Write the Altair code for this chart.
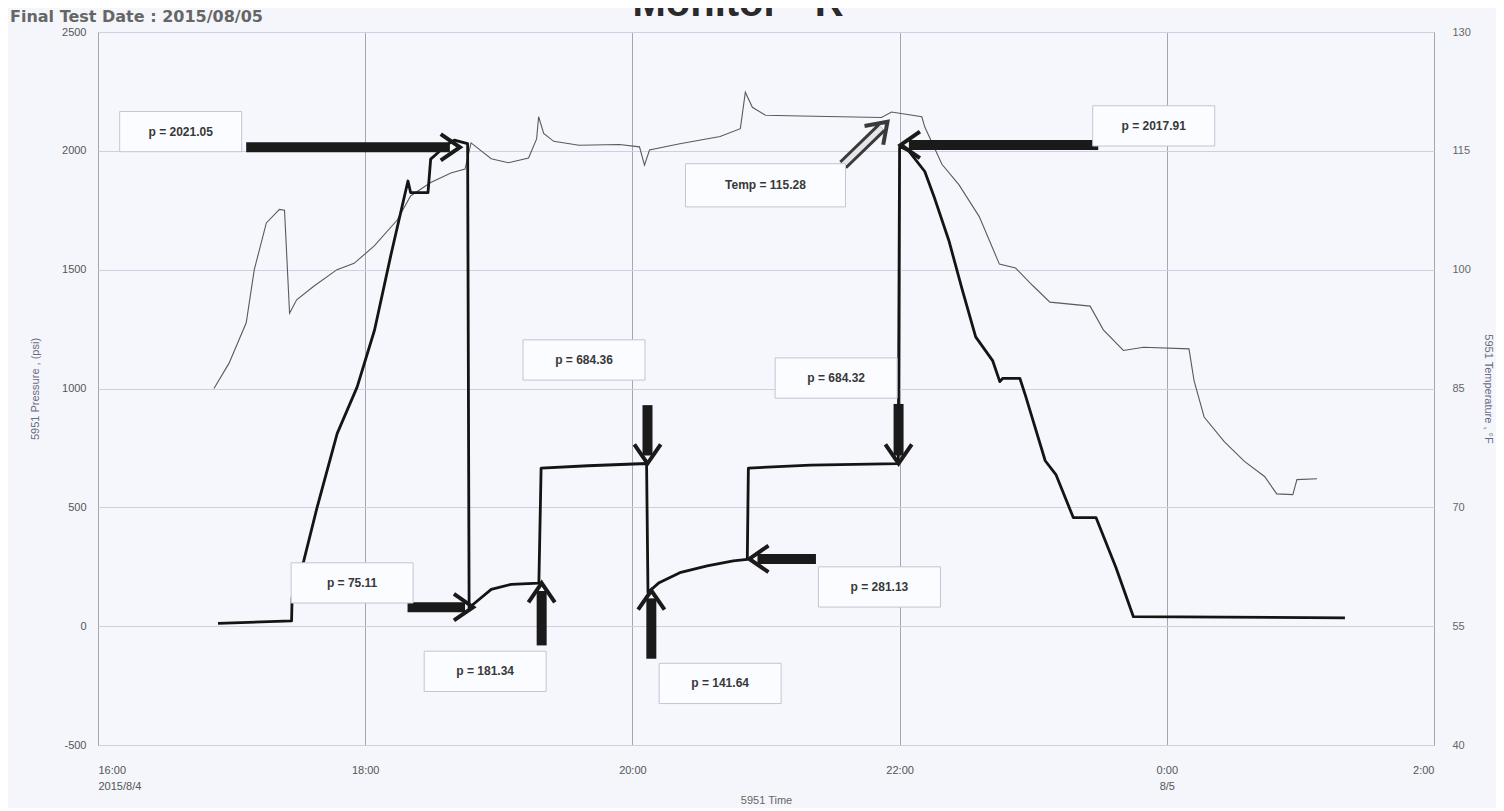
import altair as alt
import pandas as pd

# ---------------- data ----------------
p_time = [
    "2015-08-04 16:53:54", "2015-08-04 17:26:56", "2015-08-04 17:27:10", "2015-08-04 17:32:24",
    "2015-08-04 17:38:24", "2015-08-04 17:47:24", "2015-08-04 17:56:24", "2015-08-04 18:04:12",
    "2015-08-04 18:11:24", "2015-08-04 18:19:12", "2015-08-04 18:20:24", "2015-08-04 18:28:12",
    "2015-08-04 18:29:24", "2015-08-04 18:32:24", "2015-08-04 18:36:00", "2015-08-04 18:40:00",
    "2015-08-04 18:46:00", "2015-08-04 18:46:40", "2015-08-04 18:47:36", "2015-08-04 18:56:36",
    "2015-08-04 19:05:36", "2015-08-04 19:18:00", "2015-08-04 19:19:00", "2015-08-04 19:40:00",
    "2015-08-04 20:06:22", "2015-08-04 20:07:00", "2015-08-04 20:12:00", "2015-08-04 20:21:18",
    "2015-08-04 20:33:36", "2015-08-04 20:45:18", "2015-08-04 20:51:36", "2015-08-04 20:52:05",
    "2015-08-04 21:20:00", "2015-08-04 21:59:24", "2015-08-04 22:00:00", "2015-08-04 22:04:05",
    "2015-08-04 22:11:19", "2015-08-04 22:15:51", "2015-08-04 22:22:07", "2015-08-04 22:28:00",
    "2015-08-04 22:34:10", "2015-08-04 22:41:51", "2015-08-04 22:45:00", "2015-08-04 22:46:23",
    "2015-08-04 22:54:00", "2015-08-04 22:56:30", "2015-08-04 23:05:24", "2015-08-04 23:10:12",
    "2015-08-04 23:18:00", "2015-08-04 23:28:12", "2015-08-04 23:37:12", "2015-08-04 23:45:00",
    "2015-08-05 01:20:00",
]
p_val = [
    12, 22, 120, 275,
    500, 810, 1007, 1246,
    1556, 1873, 1824, 1824,
    1965, 1990, 2021.05, 2045,
    2030, 75.11, 85, 155,
    176, 181.34, 665, 675,
    684.36, 141.64, 183, 225,
    254, 275, 281.13, 665,
    678, 684.32, 2017.91, 2000,
    1913, 1797, 1623, 1420,
    1217, 1116, 1029, 1043,
    1043, 971, 696, 638,
    457, 457, 246, 40,
    35,
]

t_time = [
    "2015-08-04 16:52:05", "2015-08-04 16:58:52", "2015-08-04 17:06:34", "2015-08-04 17:10:11",
    "2015-08-04 17:15:36", "2015-08-04 17:21:30", "2015-08-04 17:23:46", "2015-08-04 17:26:02",
    "2015-08-04 17:29:13", "2015-08-04 17:36:54", "2015-08-04 17:47:20", "2015-08-04 17:55:01",
    "2015-08-04 18:04:05", "2015-08-04 18:14:29", "2015-08-04 18:20:22", "2015-08-04 18:29:26",
    "2015-08-04 18:38:29", "2015-08-04 18:44:50", "2015-08-04 18:47:32", "2015-08-04 18:56:36",
    "2015-08-04 19:04:19", "2015-08-04 19:13:22", "2015-08-04 19:16:59", "2015-08-04 19:17:53",
    "2015-08-04 19:20:10", "2015-08-04 19:24:40", "2015-08-04 19:36:00", "2015-08-04 19:54:07",
    "2015-08-04 20:03:11", "2015-08-04 20:05:26", "2015-08-04 20:07:41", "2015-08-04 20:21:18",
    "2015-08-04 20:39:24", "2015-08-04 20:48:29", "2015-08-04 20:50:43", "2015-08-04 20:53:53",
    "2015-08-04 20:59:46", "2015-08-04 21:15:36", "2015-08-04 21:51:50", "2015-08-04 21:56:24",
    "2015-08-04 22:09:58", "2015-08-04 22:11:19", "2015-08-04 22:19:01", "2015-08-04 22:26:42",
    "2015-08-04 22:35:46", "2015-08-04 22:44:49", "2015-08-04 22:52:05", "2015-08-04 22:59:46",
    "2015-08-04 23:07:30", "2015-08-04 23:25:34", "2015-08-04 23:31:30", "2015-08-04 23:40:30",
    "2015-08-04 23:49:34", "2015-08-05 00:09:58", "2015-08-05 00:12:14", "2015-08-05 00:16:46",
    "2015-08-05 00:25:48", "2015-08-05 00:34:52", "2015-08-05 00:43:55", "2015-08-05 00:49:22",
    "2015-08-05 00:56:36", "2015-08-05 00:58:26", "2015-08-05 01:07:30",
]
t_val = [
    85.0, 88.2, 93.3, 100.0,
    105.9, 107.6, 107.5, 94.5,
    96.2, 97.9, 100.0, 100.8,
    103.0, 106.3, 109.3, 111.0,
    112.2, 112.7, 116.0, 114.0,
    113.5, 114.1, 116.5, 119.3,
    117.2, 116.2, 115.7, 115.8,
    115.5, 113.2, 115.1, 115.9,
    116.8, 117.8, 122.4, 120.5,
    119.5, 119.4, 119.2, 119.9,
    119.3, 118.0, 113.3, 110.7,
    106.7, 100.7, 100.2, 98.0,
    95.9, 95.4, 92.4, 89.8,
    90.2, 90.0, 86.0, 81.4,
    78.3, 75.8, 73.9, 71.7,
    71.6, 73.5, 73.6,
]

# annotations (callout boxes + arrows)
ann_text = ["p = 2021.05", "p = 75.11", "p = 181.34", "p = 684.36",
            "p = 141.64", "p = 684.32", "p = 281.13", "p = 2017.91"]
ann_box_time = ["2015-08-04 16:37:08", "2015-08-04 17:54:07", "2015-08-04 18:53:53", "2015-08-04 19:38:16",
                "2015-08-04 20:39:24", "2015-08-04 21:31:30", "2015-08-04 21:50:57", "2015-08-04 23:54:07"]
ann_box_val = [2081, 182, -190, 1120, -241, 1044, 165, 2105]
ann_from_time = ["2015-08-04 17:06:33", "2015-08-04 18:19:01", "2015-08-04 19:19:15", "2015-08-04 20:06:47",
                 "2015-08-04 20:08:30", "2015-08-04 21:59:32", "2015-08-04 21:22:26", "2015-08-04 23:29:13"]
ann_from_val = [2015, 80, -81, 930, -137, 935, 283, 2025]
ann_to_time = ["2015-08-04 18:38:02", "2015-08-04 18:44:50", "2015-08-04 19:19:15", "2015-08-04 20:06:47",
               "2015-08-04 20:08:30", "2015-08-04 21:59:32", "2015-08-04 20:56:10", "2015-08-04 22:04:10"]
ann_to_val = [2015, 80, 148, 718, 117, 718, 283, 2025]
ann_tip_time = ["2015-08-04 18:42:33", "2015-08-04 18:48:28", "2015-08-04 19:19:15", "2015-08-04 20:06:47",
                "2015-08-04 20:08:30", "2015-08-04 21:59:32", "2015-08-04 20:52:30", "2015-08-04 22:00:30"]
ann_tip_val = [2015, 80, 181.34, 684.36, 150, 684.32, 283, 2025]
ann_angle = [90, 90, 0, 180, 0, 180, 270, 270]

temp_text = ["Temp = 115.28"]
temp_box_time = ["2015-08-04 20:59:46"]
temp_box_val = [1855]
temp_from_time = ["2015-08-04 21:34:38"]
temp_from_val = [1941]
temp_to_time = ["2015-08-04 21:51:57"]
temp_to_val = [2098]
temp_tip_time = ["2015-08-04 21:54:33"]
temp_tip_val = [2122]
temp_angle = [45]

x_ticks = [
    alt.DateTime(year=2015, month=8, date=4, hours=16),
    alt.DateTime(year=2015, month=8, date=4, hours=18),
    alt.DateTime(year=2015, month=8, date=4, hours=20),
    alt.DateTime(year=2015, month=8, date=4, hours=22),
    alt.DateTime(year=2015, month=8, date=5, hours=0),
    alt.DateTime(year=2015, month=8, date=5, hours=2),
]
p_ticks = [-500, 0, 500, 1000, 1500, 2000, 2500]
t_ticks = [40, 55, 70, 85, 100, 115, 130]

# ---------------- tables ----------------
press = pd.DataFrame({"time": p_time, "pressure": p_val})
temp = pd.DataFrame({"time": t_time, "temperature": t_val})
ann = pd.DataFrame({
    "text": ann_text, "bt": ann_box_time, "bv": ann_box_val,
    "ft": ann_from_time, "fv": ann_from_val, "tt": ann_to_time, "tv": ann_to_val,
    "kt": ann_tip_time, "kv": ann_tip_val, "ang": ann_angle,
})
tann = pd.DataFrame({
    "text": temp_text, "bt": temp_box_time, "bv": temp_box_val,
    "ft": temp_from_time, "fv": temp_from_val, "tt": temp_to_time, "tv": temp_to_val,
    "kt": temp_tip_time, "kv": temp_tip_val, "ang": temp_angle,
})

FONT = "Liberation Sans"
xdom = alt.Scale(domain=[x_ticks[0], x_ticks[-1]])
ydom = alt.Scale(domain=[-500, 2500], nice=False, zero=False)
tdom = alt.Scale(domain=[40, 130], nice=False, zero=False)

label_expr = ("[timeFormat(datum.value, '%-H:%M'), hours(datum.value) == 16 ? '2015/8/4' : "
              "(hours(datum.value) == 0 ? '8/5' : '')]")

x_axis = alt.Axis(values=x_ticks, labelExpr=label_expr, grid=True, gridColor="#a6a6b2",
                  gridWidth=1, domain=False, ticks=False, labelFlush=True, labelOverlap=False,
                  labelPadding=19, labelFontSize=11, labelColor="#555", labelFont=FONT,
                  labelLineHeight=16, title="5951 Time", titleFont=FONT, titleFontSize=11,
                  titleFontWeight="normal", titleColor="#666", titlePadding=3)
y_axis = alt.Axis(values=p_ticks, labelExpr="datum.value + ''", grid=True, gridColor="#d3cde4",
                  gridWidth=1, domain=False,
                  ticks=False, labelPadding=12, labelFontSize=11, labelColor="#555", labelFont=FONT,
                  title="5951 Pressure , (psi)", titleFont=FONT, titleFontSize=11,
                  titleFontWeight="normal", titleColor="#6a6a80", titlePadding=21)
t_axis = alt.Axis(values=t_ticks, orient="right", grid=False, domain=False, ticks=False,
                  labelPadding=18, labelFontSize=11, labelColor="#666", labelFont=FONT,
                  title="5951 Temperature , °F", titleFont=FONT, titleFontSize=11,
                  titleFontWeight="normal", titleColor="#6a6a80", titlePadding=12)


def xe(f):
    return alt.X(f + ":T", scale=xdom, axis=x_axis)


def ye(f):
    return alt.Y(f + ":Q", scale=ydom, axis=y_axis)


# temperature (right axis)
temp_line = alt.Chart(temp).mark_line(color="#5a5a5a", strokeWidth=1.1).encode(
    x=xe("time"),
    y=alt.Y("temperature:Q", scale=tdom, axis=t_axis),
)

# pressure (left axis)
press_line = alt.Chart(press).mark_line(color="#141414", strokeWidth=2.8, strokeJoin="round").encode(
    x=xe("time"), y=ye("pressure"))

shafts = alt.Chart(ann).mark_rule(color="#1a1a1a", strokeWidth=10, strokeCap="butt").encode(
    x=xe("ft"), x2="tt:T", y=ye("fv"), y2="tv:Q")
chevron = "M-1.1,1.6 L0,0 L1.1,1.6"
heads = alt.Chart(ann).mark_point(shape=chevron, filled=False, color="#1a1a1a", strokeWidth=4,
                                  size=576, opacity=1, strokeJoin="miter").encode(
    x=xe("kt"), y=ye("kv"), angle=alt.Angle("ang:Q", scale=None))
boxes = alt.Chart(ann).mark_point(shape="M-1,-0.33 L1,-0.33 L1,0.33 L-1,0.33 Z", filled=True,
                                  fill="#fbfcff", stroke="#c4c4d4", strokeWidth=1, size=14884,
                                  opacity=1).encode(x=xe("bt"), y=ye("bv"))
texts = alt.Chart(ann).mark_text(font=FONT, fontSize=12, fontWeight="bold", color="#383838").encode(
    x=xe("bt"), y=ye("bv"), text="text:N")

t_shaft_out = alt.Chart(tann).mark_rule(color="#3a3a3a", strokeWidth=11, strokeCap="butt").encode(
    x=xe("ft"), x2="tt:T", y=ye("fv"), y2="tv:Q")
t_shaft_in = alt.Chart(tann).mark_rule(color="#e6e6ea", strokeWidth=5, strokeCap="butt").encode(
    x=xe("ft"), x2="tt:T", y=ye("fv"), y2="tv:Q")
t_head = alt.Chart(tann).mark_point(shape=chevron, filled=False, color="#3a3a3a", strokeWidth=4,
                                    size=576, opacity=1).encode(
    x=xe("kt"), y=ye("kv"), angle=alt.Angle("ang:Q", scale=None))
t_box = alt.Chart(tann).mark_point(shape="M-1,-0.27 L1,-0.27 L1,0.27 L-1,0.27 Z", filled=True,
                                   fill="#fbfcff", stroke="#c4c4d4", strokeWidth=1, size=25600,
                                   opacity=1).encode(x=xe("bt"), y=ye("bv"))
t_text = alt.Chart(tann).mark_text(font=FONT, fontSize=12, fontWeight="bold", color="#383838").encode(
    x=xe("bt"), y=ye("bv"), text="text:N")

one = alt.Data(values=[{"a": 1}])
title_txt = alt.Chart(one).mark_text(font=FONT, fontSize=40, fontWeight="bold", color="#2a2a2a",
                                     baseline="alphabetic", align="center").encode(
    x=alt.value(640), y=alt.value(-16), text=alt.value("Monitor - R"))
date_txt = alt.Chart(one).mark_text(font="DejaVu Sans", fontSize=16, fontWeight="bold", color="#666",
                                    baseline="alphabetic", align="left").encode(
    x=alt.value(-88), y=alt.value(-10), text=alt.value("Final Test Date : 2015/08/05"))

inner = alt.layer(press_line, t_shaft_out, t_shaft_in, t_head, shafts, heads,
                  boxes, texts, t_box, t_text, title_txt, date_txt)

chart = alt.layer(temp_line, inner).resolve_scale(y="independent").properties(
    width=1336, height=713,
    autosize=alt.AutoSizeParams(type="none"),
    padding={"left": 90, "top": 24, "right": 62, "bottom": 63},
    background="#f4f6fb",
).configure_view(stroke="#9c9cab", strokeWidth=1, fill="#f6f7fc")

chart.save("out.html", embed_options={"renderer": "svg", "actions": False})
